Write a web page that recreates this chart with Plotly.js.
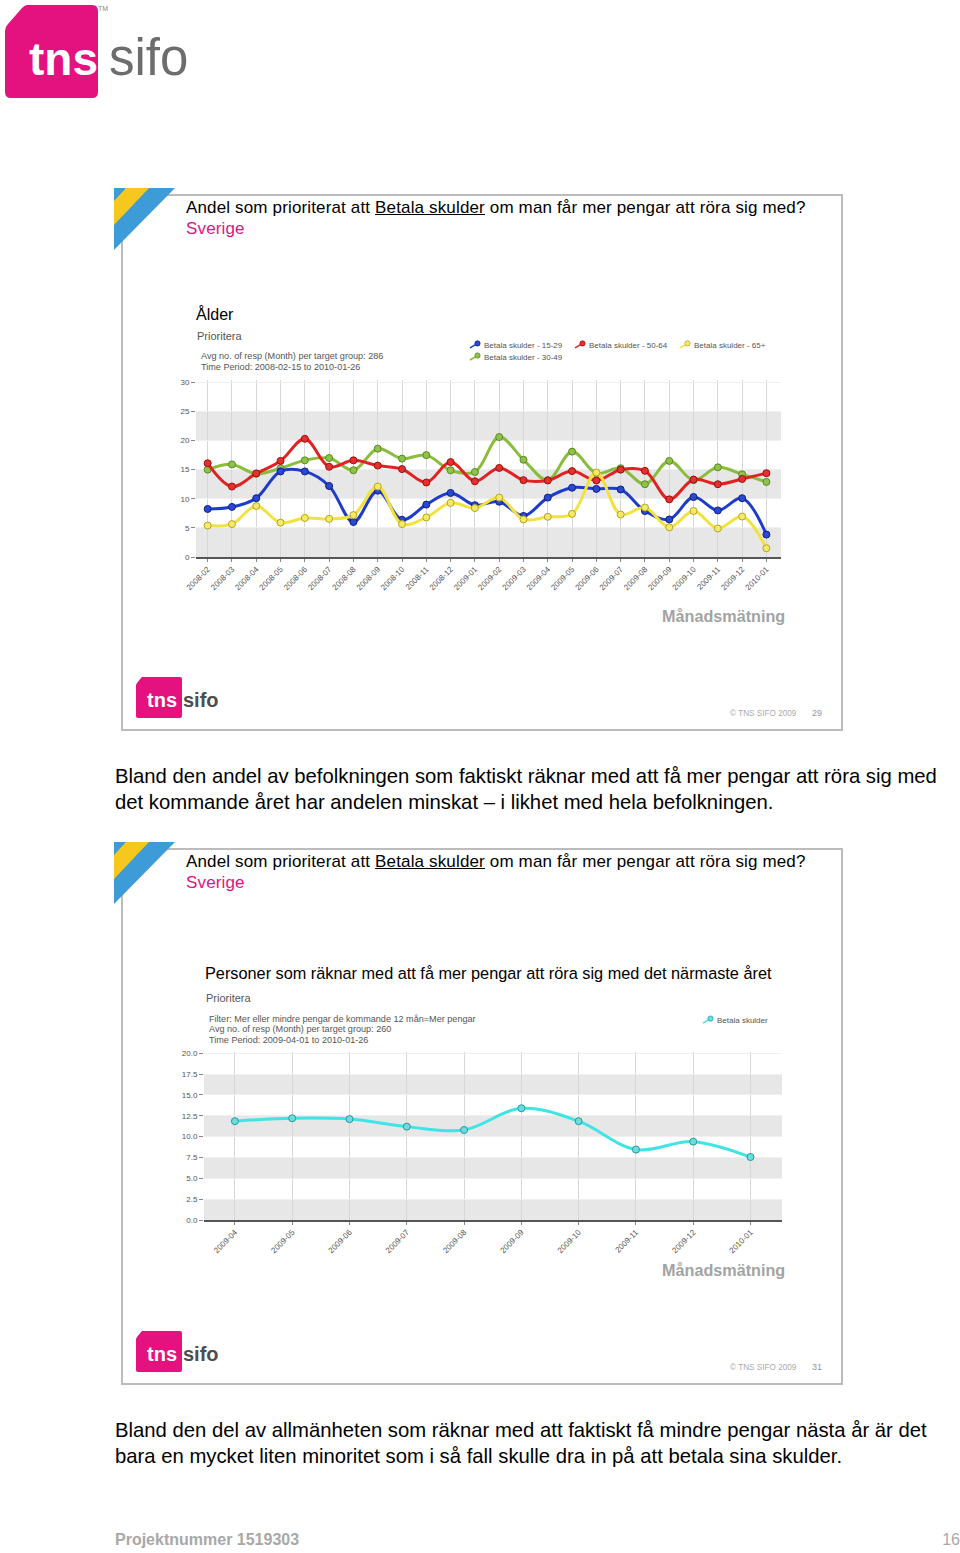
<!DOCTYPE html>
<html><head><meta charset="utf-8">
<script src="https://cdn.plot.ly/plotly-3.0.1.min.js"></script>
<style>
body{margin:0;background:#fff;width:960px;height:1553px;position:relative;overflow:hidden;font-family:"Liberation Sans",Arial,sans-serif;}
.t{position:absolute;white-space:nowrap;z-index:5;line-height:1.15;}
.frame{position:absolute;border:2px solid #bcbcbc;box-sizing:border-box;background:#fff;}
.chart{position:absolute;z-index:3;}
svg.deco{position:absolute;z-index:6;overflow:visible;}
.ttl{font-size:17px;letter-spacing:0.15px;color:#000}
.par{font-size:20.3px;color:#000}
</style></head><body>

<!-- top logo -->
<svg class="deco" style="left:0;top:0" width="210" height="105">
  <path d="M27,5 L92,5 Q98,5 98,11 L98,92 Q98,98 92,98 L11,98 Q5,98 5,92 L5,31 Q5,27 8,24 L22,8 Q25,5 27,5 Z" fill="#e3127f"/>
  <text x="29" y="75" font-family="Liberation Sans, Arial" font-weight="bold" font-size="46" fill="#fff">tns</text>
  <text x="109" y="75" font-family="Liberation Sans, Arial" font-size="51" fill="#6d6d6d">sifo</text>
  <text x="98" y="11" font-family="Liberation Sans, Arial" font-size="7" fill="#888">TM</text>
</svg>

<!-- slide 1 -->
<div class="frame" style="left:121px;top:194px;width:722px;height:537px"></div>
<svg class="deco" style="left:0;top:0" width="10" height="10">
  <polygon points="114,188 175,188 114,250" fill="#3d9bd8"/>
  <polygon points="126,188 149,188 114,225 114,201" fill="#f6c71d"/>
</svg>
<div class="t ttl" style="left:186px;top:198.2px">Andel som prioriterat att <u>Betala skulder</u> om man får mer pengar att röra sig med?</div>
<div class="t ttl" style="left:186px;top:219.2px;color:#e0147f">Sverige</div>
<div class="t" style="left:196px;top:306px;font-size:16px;color:#000">Ålder</div>
<div class="t" style="left:197px;top:329.7px;font-size:11px;color:#555">Prioritera</div>
<div class="t" style="left:201px;top:350.8px;font-size:9.1px;color:#555">Avg no. of resp (Month) per target group: 286</div>
<div class="t" style="left:201px;top:361.8px;font-size:9.1px;color:#555">Time Period: 2008-02-15 to 2010-01-26</div>
<div class="t" style="left:662px;top:606.7px;font-size:16.2px;font-weight:bold;color:#a3a3a3">Månadsmätning</div>
<svg class="deco" style="left:0;top:0" width="10" height="10">
  <path d="M142,677 L180,677 Q182,677 182,679 L182,716 Q182,718 180,718 L138,718 Q136,718 136,716 L136,686 Q136,684 137,683 L141,678 Z" fill="#e3127f"/>
  <text x="147" y="707" font-family="Liberation Sans, Arial" font-weight="bold" font-size="20" fill="#fff">tns</text>
  <text x="183" y="707" font-family="Liberation Sans, Arial" font-weight="bold" font-size="20" fill="#4d4d4d">sifo</text>
</svg>
<div class="t" style="left:730px;top:709.3px;font-size:8.2px;color:#aaa">© TNS SIFO 2009</div>
<div class="t" style="left:812px;top:707.8px;font-size:9px;color:#999">29</div>
<div id="chart1" class="chart" style="left:121px;top:194px;width:721px;height:536px"></div>

<div class="t par" style="left:115px;top:765.3px">Bland den andel av befolkningen som faktiskt räknar med att få mer pengar att röra sig med</div>
<div class="t par" style="left:115px;top:791.3px">det kommande året har andelen minskat – i likhet med hela befolkningen.</div>

<!-- slide 2 -->
<div class="frame" style="left:121px;top:848px;width:722px;height:537px"></div>
<svg class="deco" style="left:0;top:0" width="10" height="10">
  <polygon points="114,842 175,842 114,904" fill="#3d9bd8"/>
  <polygon points="126,842 149,842 114,879 114,855" fill="#f6c71d"/>
</svg>
<div class="t ttl" style="left:186px;top:852.2px">Andel som prioriterat att <u>Betala skulder</u> om man får mer pengar att röra sig med?</div>
<div class="t ttl" style="left:186px;top:873.2px;color:#e0147f">Sverige</div>
<div class="t" style="left:205px;top:963.6px;font-size:16.3px;color:#000">Personer som räknar med att få mer pengar att röra sig med det närmaste året</div>
<div class="t" style="left:206px;top:991.7px;font-size:11px;color:#555">Prioritera</div>
<div class="t" style="left:209px;top:1013.8px;font-size:9.1px;color:#555">Filter: Mer eller mindre pengar de kommande 12 mån=Mer pengar</div>
<div class="t" style="left:209px;top:1024.3px;font-size:9.1px;color:#555">Avg no. of resp (Month) per target group: 260</div>
<div class="t" style="left:209px;top:1034.8px;font-size:9.1px;color:#555">Time Period: 2009-04-01 to 2010-01-26</div>
<div class="t" style="left:662px;top:1260.7px;font-size:16.2px;font-weight:bold;color:#a3a3a3">Månadsmätning</div>
<svg class="deco" style="left:0;top:0" width="10" height="10">
  <path d="M142,1331 L180,1331 Q182,1331 182,1333 L182,1370 Q182,1372 180,1372 L138,1372 Q136,1372 136,1370 L136,1340 Q136,1338 137,1337 L141,1332 Z" fill="#e3127f"/>
  <text x="147" y="1361" font-family="Liberation Sans, Arial" font-weight="bold" font-size="20" fill="#fff">tns</text>
  <text x="183" y="1361" font-family="Liberation Sans, Arial" font-weight="bold" font-size="20" fill="#4d4d4d">sifo</text>
</svg>
<div class="t" style="left:730px;top:1363.3px;font-size:8.2px;color:#aaa">© TNS SIFO 2009</div>
<div class="t" style="left:812px;top:1361.8px;font-size:9px;color:#999">31</div>
<div id="chart2" class="chart" style="left:121px;top:848px;width:721px;height:536px"></div>

<div class="t par" style="left:115px;top:1419.3px">Bland den del av allmänheten som räknar med att faktiskt få mindre pengar nästa år är det</div>
<div class="t par" style="left:115px;top:1445.3px">bara en mycket liten minoritet som i så fall skulle dra in på att betala sina skulder.</div>

<div class="t" style="left:115px;top:1530.8px;font-size:16px;font-weight:bold;color:#a8a8a8">Projektnummer 1519303</div>
<div class="t" style="right:0px;top:1530.8px;font-size:16px;color:#a8a8a8">16</div>

<script>
// ---------- data ----------
const months1 = ['2008-02','2008-03','2008-04','2008-05','2008-06','2008-07','2008-08','2008-09','2008-10','2008-11','2008-12',
  '2009-01','2009-02','2009-03','2009-04','2009-05','2009-06','2009-07','2009-08','2009-09','2009-10','2009-11','2009-12','2010-01'];
const age15_29 = [8.25, 8.6, 10.1, 14.7, 14.7, 12.2, 6.0, 11.4, 6.4, 9.0, 11.0, 8.9, 9.5, 7.05, 10.2, 11.9, 11.7, 11.6, 7.9, 6.45, 10.3, 8.0, 10.1, 3.85];
const age30_49 = [15.0, 15.9, 14.3, 15.25, 16.6, 17.0, 14.9, 18.6, 16.9, 17.5, 14.9, 14.6, 20.6, 16.7, 13.2, 18.1, 14.4, 15.25, 12.5, 16.5, 13.2, 15.4, 14.2, 12.9];
const age50_64 = [16.1, 12.1, 14.35, 16.5, 20.3, 15.5, 16.6, 15.7, 15.1, 12.8, 16.3, 13.0, 15.3, 13.2, 13.15, 14.75, 13.15, 15.0, 14.8, 9.9, 13.3, 12.5, 13.4, 14.4];
const age65plus = [5.4, 5.65, 8.75, 5.9, 6.7, 6.55, 7.2, 12.1, 5.65, 6.8, 9.3, 8.4, 10.2, 6.45, 6.9, 7.4, 14.5, 7.3, 8.5, 5.1, 7.9, 4.9, 6.95, 1.5];
const seriesNames1 = ['Betala skulder - 15-29','Betala skulder - 30-49','Betala skulder - 50-64','Betala skulder - 65+'];

const months2 = ['2009-04','2009-05','2009-06','2009-07','2009-08','2009-09','2009-10','2009-11','2009-12','2010-01'];
const betalaSkulder = [11.85, 12.2, 12.1, 11.2, 10.8, 13.4, 11.85, 8.45, 9.4, 7.55];
const seriesName2 = 'Betala skulder';

// ---------- charts ----------
const FONT = 'Liberation Sans, Arial, sans-serif';
function line(name, x, y, color, fill, edge, legend) {
  return {type:'scatter', mode:'lines+markers', x:x, y:y, name:name, legend:legend, showlegend:true,
    line:{color:color, width:3, shape:'spline', smoothing:1},
    marker:{size:7, color:fill, line:{color:edge, width:1}}};
}
function bands(list) {
  return list.map(b => ({type:'rect', xref:'paper', x0:0, x1:1, yref:'y', y0:b[0], y1:b[1],
    fillcolor:'#e7e7e7', line:{width:0}, layer:'below'}));
}
function axes(xrange, yrange, dtick, fmt) {
  return {
    xaxis:{type:'category', range:xrange, tickangle:-45, tickfont:{size:8, color:'#555'},
      showgrid:true, gridcolor:'#d6d6d6', gridwidth:1, showline:true, linecolor:'#555', linewidth:1.5,
      ticks:'outside', ticklen:3, tickcolor:'#888', zeroline:false},
    yaxis:{range:yrange, dtick:dtick, tick0:0, tickformat:fmt, tickfont:{size:8, color:'#555'},
      ticks:'outside', ticklen:4, tickcolor:'#888', showline:false, zeroline:false,
      showgrid:true, gridcolor:'#f0f0f0', gridwidth:1}
  };
}
function leg(x, y) {
  return {orientation:'h', xanchor:'left', yanchor:'middle', x:x, y:y,
    font:{size:8, color:'#555', family:FONT}, bgcolor:'rgba(0,0,0,0)', itemwidth:30};
}
// compact legend symbol: short slanted line + small marker placed just before the text
function compactLegend(gd) {
  gd.querySelectorAll('g.traces').forEach(tr => {
    tr.querySelectorAll('g.legendlines path').forEach(p => { p.setAttribute('d','M26,3L33,-1'); p.style.strokeWidth='1.5px'; });
    tr.querySelectorAll('g.legendpoints path.scatterpts').forEach(p => p.setAttribute('transform','translate(33.5,-1.5) scale(0.75)'));
  });
}
function finish(gd) {
  compactLegend(gd);
  setTimeout(() => compactLegend(gd), 50);
}

const traces1 = [
  line(seriesNames1[1], months1, age30_49, '#8abd3c', '#8fc24a', '#5a8a1e', 'legend4'),
  line(seriesNames1[2], months1, age50_64, '#e02222', '#e43030', '#9a1010', 'legend2'),
  line(seriesNames1[0], months1, age15_29, '#1e3ccc', '#2a48d6', '#10207a', 'legend'),
  line(seriesNames1[3], months1, age65plus, '#f2e23e', '#f4ea6a', '#b8a41c', 'legend3')
];
const ax1 = axes([-0.48, 23.6], [0, 30.4], 5, '');
const layout1 = Object.assign({
  width:721, height:536, margin:{l:75, r:61, t:186, b:173},
  paper_bgcolor:'rgba(0,0,0,0)', plot_bgcolor:'#fff', font:{family:FONT},
  showlegend:true,
  legend:leg(0.4239, 1.198), legend2:leg(0.6034, 1.198), legend3:leg(0.7829, 1.198), legend4:leg(0.4239, 1.13),
  shapes:bands([[0,5],[10,15],[20,25]])
}, ax1);
Plotly.newPlot('chart1', traces1, layout1, {displayModeBar:false, staticPlot:true}).then(finish);

const traces2 = [line(seriesName2, months2, betalaSkulder, '#3fe4e4', '#6ddcdc', '#1d9ea3', 'legend')];
const ax2 = axes([-0.54, 9.55], [0, 20.15], 2.5, '.1f');
const layout2 = Object.assign({
  width:721, height:536, margin:{l:83, r:60, t:204, b:164},
  paper_bgcolor:'rgba(0,0,0,0)', plot_bgcolor:'#fff', font:{family:FONT},
  showlegend:true,
  legend:leg(0.8183, 1.19),
  shapes:bands([[0,2.5],[5,7.5],[10,12.5],[15,17.5]])
}, ax2);
Plotly.newPlot('chart2', traces2, layout2, {displayModeBar:false, staticPlot:true}).then(finish);
</script>
</body></html>
